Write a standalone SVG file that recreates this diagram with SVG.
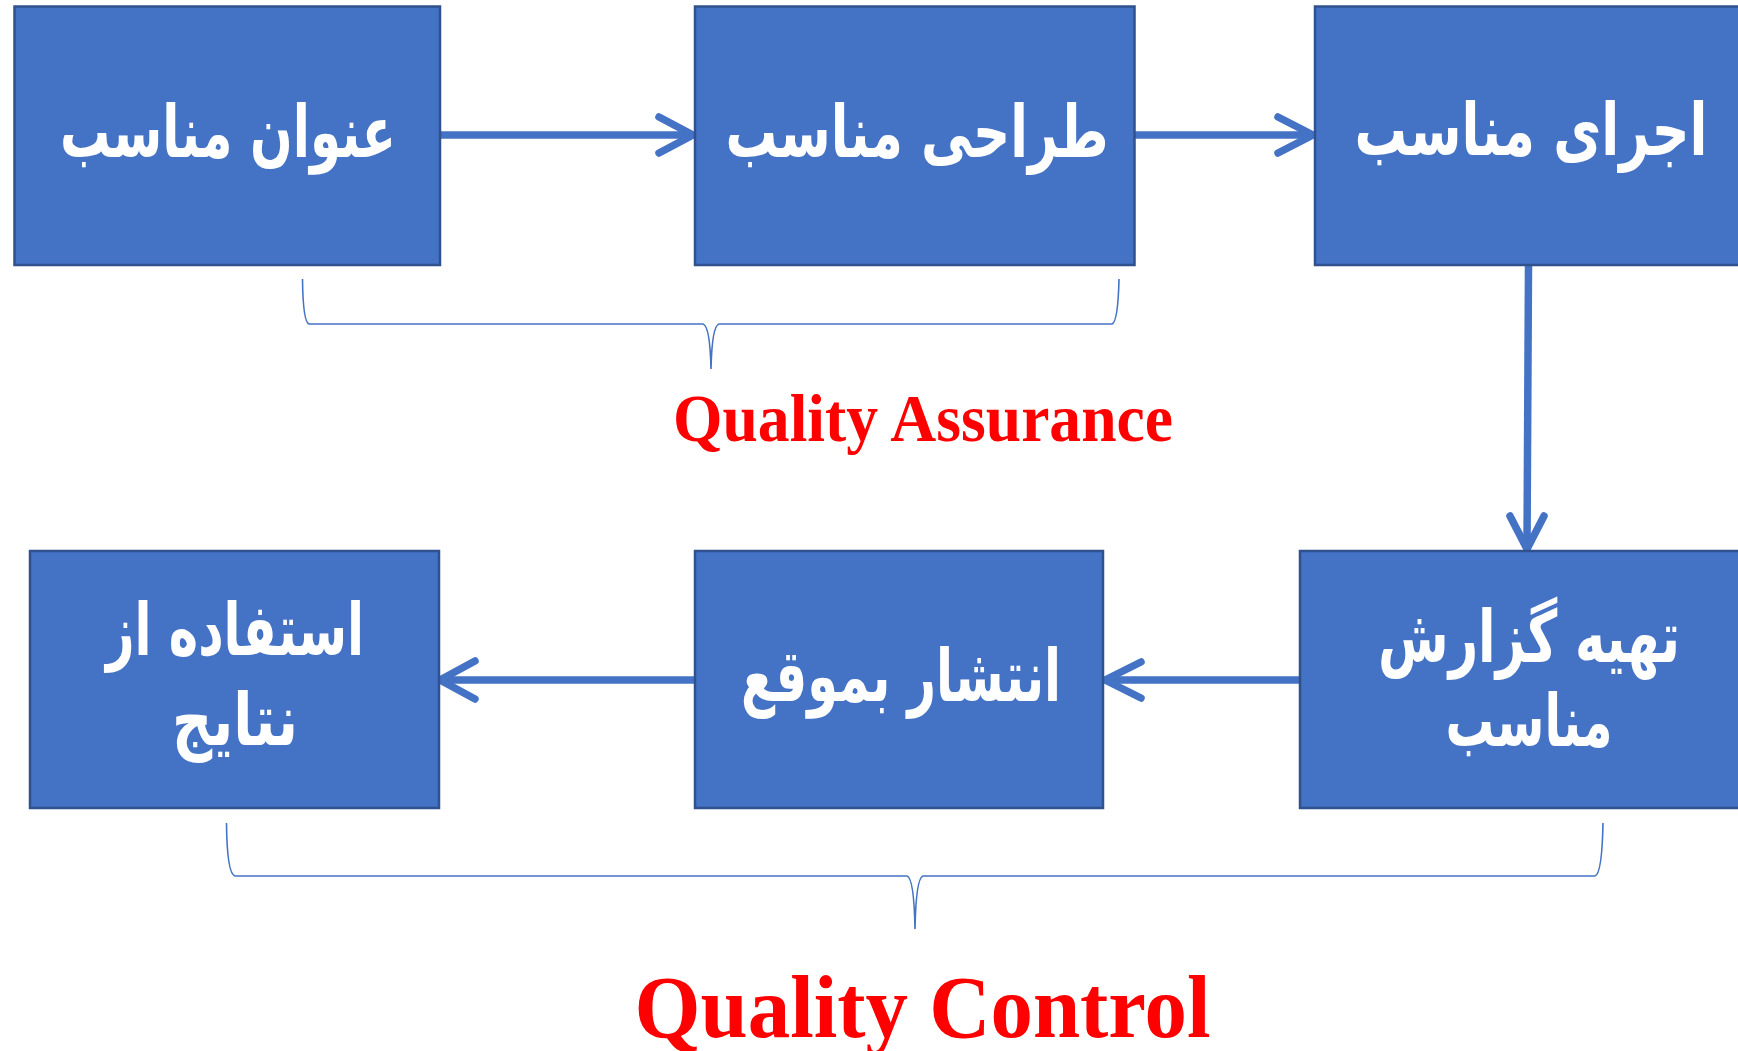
<svg xmlns="http://www.w3.org/2000/svg" width="1738" height="1051" viewBox="0 0 1738 1051">
<style>
.box{fill:#4472C4;stroke:#2F528F;stroke-width:2.5}
.lbl{font-family:"DejaVu Sans",sans-serif;font-weight:bold;font-size:72px;fill:#FFFFFF;text-anchor:middle}
.con{stroke:#4472C4;stroke-width:7.5;fill:none;stroke-linecap:round;stroke-linejoin:round}
.brace{stroke:#4472C4;stroke-width:1.6;fill:none}
.qa{font-family:"Liberation Serif",serif;font-weight:bold;fill:#FF0000;text-anchor:middle}
</style>
<rect width="1738" height="1051" fill="#FFFFFF"/>
<g id="connectors">
<line class="con" x1="440" y1="135" x2="691" y2="135" style="stroke-linecap:butt"/>
<path class="con" d="M659,117 L693,135 L659,153"/>
<line class="con" x1="1135" y1="135" x2="1311" y2="135" style="stroke-linecap:butt"/>
<path class="con" d="M1278,117 L1313,135 L1278,153"/>
<line class="con" x1="1528.5" y1="265" x2="1527" y2="547" style="stroke-linecap:butt"/>
<path class="con" d="M1510,516 L1527,549 L1544,516"/>
<line class="con" x1="1300" y1="680" x2="1107" y2="680" style="stroke-linecap:butt"/>
<path class="con" d="M1141,662 L1105,680 L1141,698"/>
<line class="con" x1="695" y1="680" x2="442" y2="680" style="stroke-linecap:butt"/>
<path class="con" d="M475,661 L440,680 L475,699"/>
</g>
<g id="node1">
<rect class="box" x="14.5" y="6.5" width="425.5" height="258.5"/>
<text class="lbl" x="228" y="157" textLength="336" lengthAdjust="spacingAndGlyphs">عنوان مناسب</text>
</g>
<g id="node2">
<rect class="box" x="695" y="6.5" width="439.5" height="258.5"/>
<text class="lbl" x="917" y="157" textLength="383" lengthAdjust="spacingAndGlyphs">طراحی مناسب</text>
</g>
<g id="node3">
<rect class="box" x="1315" y="6.5" width="426" height="258.5"/>
<text class="lbl" x="1531" y="155" textLength="353" lengthAdjust="spacingAndGlyphs">اجرای مناسب</text>
</g>
<g id="node4">
<rect class="box" x="1300" y="551" width="441" height="257"/>
<text class="lbl" x="1529" y="662" textLength="302" lengthAdjust="spacingAndGlyphs">تهیه گزارش</text>
<text class="lbl" x="1529" y="746" textLength="167" lengthAdjust="spacingAndGlyphs">مناسب</text>
</g>
<g id="node5">
<rect class="box" x="695" y="551" width="408" height="257"/>
<text class="lbl" x="901" y="701" textLength="320" lengthAdjust="spacingAndGlyphs">انتشار بموقع</text>
</g>
<g id="node6">
<rect class="box" x="30" y="551" width="409" height="257"/>
<text class="lbl" x="235" y="655" textLength="258" lengthAdjust="spacingAndGlyphs">استفاده از</text>
<text class="lbl" x="235" y="745" textLength="126" lengthAdjust="spacingAndGlyphs">نتایج</text>
</g>
<g id="qa-brace">
<path class="brace" d="M302.5,279 Q303,322 309,324 L703,324 Q710,326 711,369 Q712,326 719,324 L1112,324 Q1118,322 1119,279"/>
<text class="qa" x="923" y="441" font-size="68" textLength="500" lengthAdjust="spacingAndGlyphs">Quality Assurance</text>
</g>
<g id="qc-brace">
<path class="brace" d="M226.5,823 Q227,874 235,876 L907,876 Q914,878 915,929 Q916,878 923,876 L1595,876 Q1602,874 1603,823"/>
<text class="qa" x="922.5" y="1037" font-size="88" textLength="576" lengthAdjust="spacingAndGlyphs">Quality Control</text>
</g>
</svg>
